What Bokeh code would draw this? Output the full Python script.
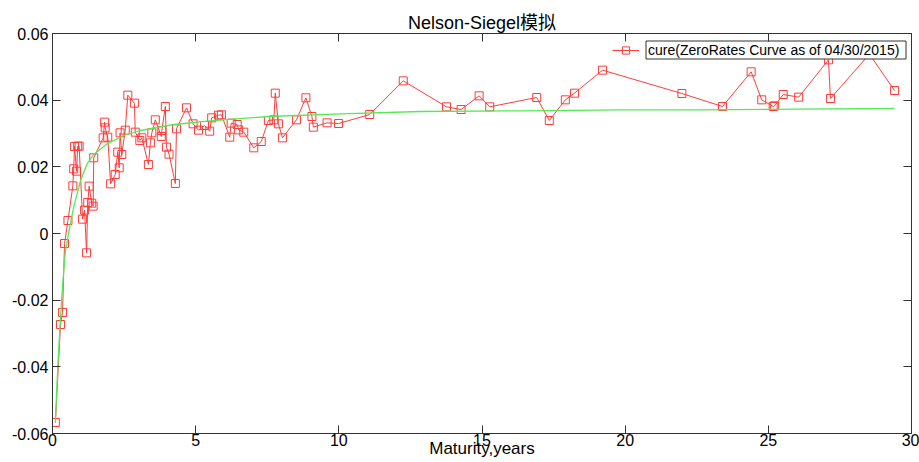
from bokeh.plotting import figure
from bokeh.models import (Range1d, FixedTicker, LinearAxis, Legend, LegendItem,
                          CustomJSTickFormatter)
from bokeh.embed import file_html
from bokeh.resources import INLINE

# ---- data ----
maturity = [0.10, 0.28, 0.35, 0.42, 0.54, 0.71, 0.74, 0.77, 0.84, 0.88,
            0.93, 1.05, 1.12, 1.19, 1.23, 1.28, 1.37, 1.42, 1.44, 1.77,
            1.82, 1.84, 1.93, 2.03, 2.19, 2.28, 2.33, 2.36, 2.42, 2.54,
            2.63, 2.86, 2.89, 3.05, 3.12, 3.35, 3.42, 3.47, 3.59, 3.80,
            3.82, 3.94, 3.98, 4.07, 4.29, 4.33, 4.68, 4.91, 5.10, 5.31,
            5.49, 5.56, 5.80, 5.90, 6.19, 6.24, 6.45, 6.50, 6.68, 7.03,
            7.29, 7.54, 7.73, 7.78, 7.89, 8.03, 8.52, 8.85, 9.06, 9.11,
            9.59, 9.99, 11.08, 12.25, 13.76, 14.27, 14.90, 15.27, 16.91, 17.35,
            17.91, 18.23, 19.21, 21.98, 23.40, 24.40, 24.77, 25.17, 25.22, 25.52,
            26.06, 27.10, 27.17, 28.53, 29.41]
zero_rates = [-0.0567, -0.0273, -0.0237, -0.0030, 0.0039, 0.0143, 0.0194, 0.0261, 0.0187, 0.0262,
              0.0262, 0.0043, 0.0070, -0.0058, 0.0093, 0.0142, 0.0091, 0.0082, 0.0227, 0.0287,
              0.0334, 0.0317, 0.0289, 0.0149, 0.0177, 0.0244, 0.0197, 0.0302, 0.0237, 0.0310,
              0.0415, 0.0391, 0.0304, 0.0279, 0.0287, 0.0207, 0.0272, 0.0302, 0.0341, 0.0291,
              0.0309, 0.0381, 0.0259, 0.0238, 0.0150, 0.0314, 0.0377, 0.0329, 0.0310, 0.0324,
              0.0307, 0.0347, 0.0355, 0.0356, 0.0289, 0.0331, 0.0327, 0.0311, 0.0304, 0.0257,
              0.0276, 0.0339, 0.0341, 0.0421, 0.0329, 0.0287, 0.0341, 0.0407, 0.0351, 0.0319,
              0.0332, 0.0330, 0.0357, 0.0458, 0.0380, 0.0372, 0.0413, 0.0380, 0.0408, 0.0339,
              0.0401, 0.0421, 0.0490, 0.0420, 0.0381, 0.0485, 0.0401, 0.0381, 0.0383, 0.0417,
              0.0409, 0.0521, 0.0405, 0.0538, 0.0429]

fit_maturity = [0.10, 0.15, 0.20, 0.25, 0.31, 0.38, 0.45, 0.57, 0.74, 0.98,
                1.21, 1.44, 1.91, 2.49, 3.07, 4.24, 5.40, 7.50, 10.06, 12.85,
                16.35, 19.84, 22.63, 26.00, 29.40]
fit_rates = [-0.0567, -0.0465, -0.0375, -0.0295, -0.0210, -0.0125, -0.0055, 0.0005, 0.0079, 0.0159,
             0.0209, 0.0237, 0.0269, 0.0294, 0.0309, 0.0327, 0.0337, 0.0351, 0.0359, 0.0366,
             0.0368, 0.0371, 0.0371, 0.0373, 0.0375]

xticks = [0, 5, 10, 15, 20, 25, 30]
xtick_labels = ["0", "5", "10", "15", "20", "25", "30"]
yticks = [-0.06, -0.04, -0.02, 0, 0.02, 0.04, 0.06]
ytick_labels = ["-0.06", "-0.04", "-0.02", "0", "0.02", "0.04", "0.06"]

title_text = "Nelson-Siegel模拟"
xlabel_text = "Maturity,years"
legend_text = "cure(ZeroRates Curve as of 04/30/2015)"

FONT = "'Liberation Sans', Arial, 'Noto Sans CJK SC', sans-serif"
AX = "#333333"
RED = "#ff3c3c"
GREEN = "#55ea55"

X0, X1, Y0, Y1 = 0, 30, -0.06, 0.06
FRAME_W, FRAME_H = 859, 400

p = figure(width=919, height=462, output_backend="svg", toolbar_location=None,
           x_range=Range1d(X0, X1), y_range=Range1d(Y0, Y1),
           min_border_left=52, min_border_right=8, min_border_top=33, min_border_bottom=29)
p.grid.visible = False
p.outline_line_color = AX
p.background_fill_color = "white"
p.border_fill_color = "white"

p.title.text = title_text
p.title.align = "center"
p.title.text_font = FONT
p.title.text_font_size = "18px"
p.title.text_font_style = "normal"
p.title.text_color = "black"
p.title.standoff = 1

def style_axis(ax, ticks, labels, standoff):
    ax.ticker = FixedTicker(ticks=ticks)
    if labels is None:
        ax.formatter = CustomJSTickFormatter(code="return ''")
        ax.major_label_text_font_size = "0px"
    else:
        ax.major_label_overrides = dict(zip(ticks, labels))
        ax.major_label_text_font_size = "16px"
    ax.major_tick_in = 8
    ax.major_tick_out = 0
    ax.minor_tick_line_color = None
    ax.axis_line_color = AX
    ax.major_tick_line_color = AX
    ax.major_label_text_font = FONT
    ax.major_label_text_color = "black"
    ax.major_label_standoff = standoff

style_axis(p.xaxis[0], xticks, xtick_labels, 0)
style_axis(p.yaxis[0], yticks, ytick_labels, 4)
p.xaxis.axis_label = xlabel_text
p.xaxis.axis_label_text_font = FONT
p.xaxis.axis_label_text_font_size = "17px"
p.xaxis.axis_label_text_font_style = "normal"
p.xaxis.axis_label_text_color = "black"
p.xaxis.axis_label_standoff = -10

top_axis = LinearAxis()
style_axis(top_axis, xticks, None, 0)
p.add_layout(top_axis, "above")
right_axis = LinearAxis()
style_axis(right_axis, yticks, None, 0)
p.add_layout(right_axis, "right")

r_line = p.line(maturity, zero_rates, line_color=RED, line_width=1)
r_pts = p.scatter(maturity, zero_rates, marker="square", size=8,
                  line_color=RED, line_width=1, fill_color=None)
p.line(fit_maturity, fit_rates, line_color=GREEN, line_width=1.3)

# legend box drawn around the text only (pixel position inside the frame -> data units)
def fx(px):
    return X0 + (X1 - X0) * px / FRAME_W

def fy(py):  # py measured from the frame top
    return Y1 - (Y1 - Y0) * py / FRAME_H

p.quad(left=[fx(593.5)], right=[fx(853.5)], top=[fy(7.5)], bottom=[fy(25.5)],
       fill_color="white", fill_alpha=1.0, line_color=AX, line_width=1)

legend = Legend(items=[LegendItem(label=legend_text, renderers=[r_line, r_pts])],
                location=(560, 374), border_line_color=None, background_fill_alpha=0,
                padding=0, margin=0, spacing=0, glyph_width=27, glyph_height=18,
                label_height=18, label_standoff=9,
                label_text_font=FONT, label_text_font_size="14px", label_text_color="black")
p.add_layout(legend)

open("out.html", "w").write(file_html(p, INLINE))
